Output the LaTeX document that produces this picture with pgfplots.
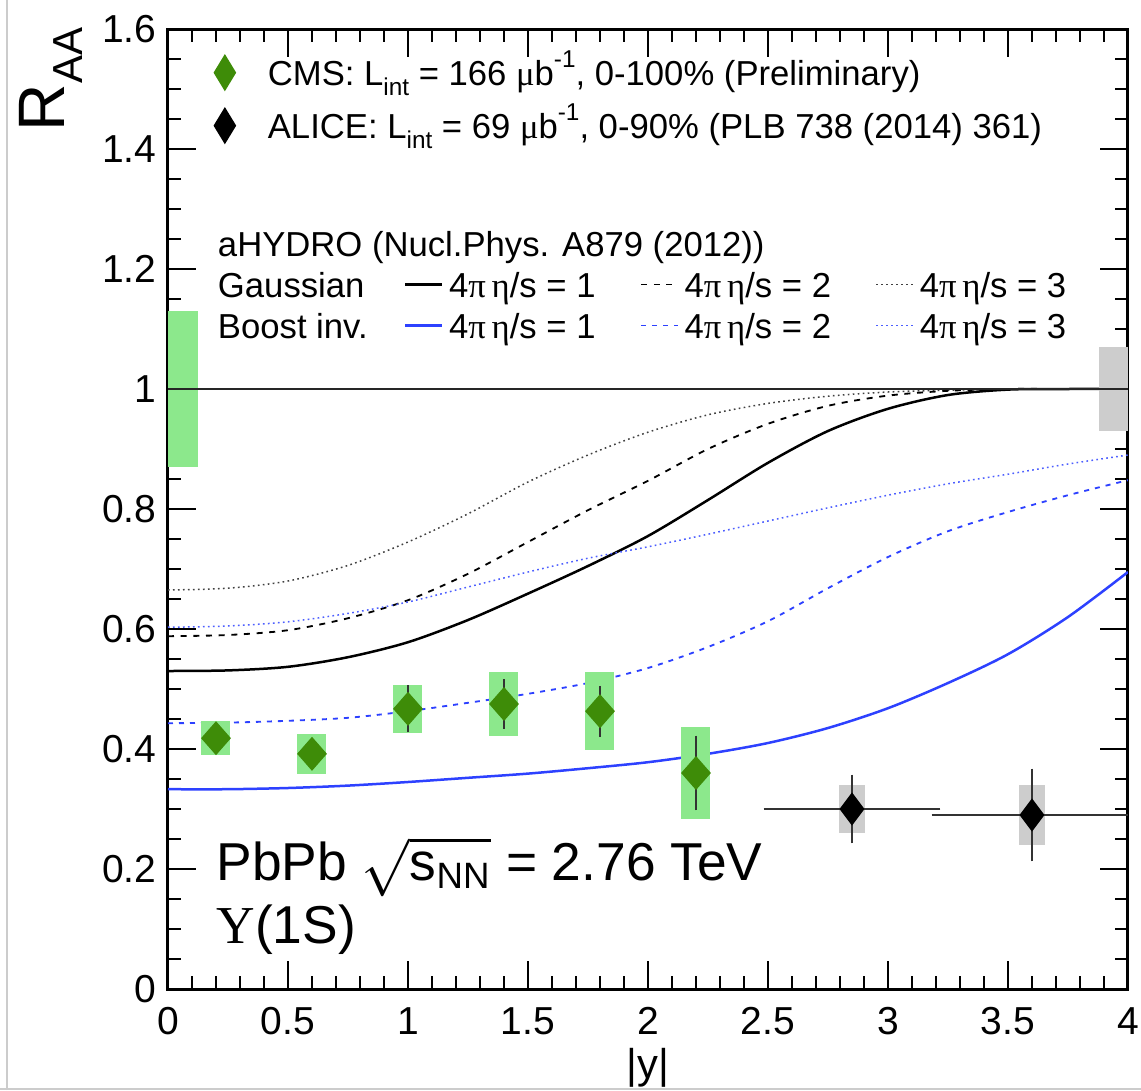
\documentclass[border=0pt]{standalone}
\usepackage{fontspec}
\setmainfont{Liberation Sans}
\newfontfamily\gk{Liberation Serif}
\usepackage{graphicx}
\usepackage{pgfplots}
\usepackage{pgfplotstable}
\pgfplotsset{compat=1.18}

\definecolor{cmsgreen}{RGB}{62,140,8}
\definecolor{cmsbox}{RGB}{140,232,140}
\definecolor{alicebox}{RGB}{205,205,205}
\definecolor{hydroblue}{RGB}{45,65,255}

% aHYDRO curves: Gaussian (g) and boost-invariant (b) rapidity profiles, 4 pi eta/s = 1,2,3
\pgfplotstableread{
x    g1    g2    g3    b1    b2    b3
0.00 0.530 0.588 0.665 0.333 0.443 0.603
0.25 0.531 0.590 0.668 0.333 0.444 0.605
0.50 0.537 0.598 0.680 0.335 0.447 0.612
0.75 0.553 0.618 0.706 0.339 0.452 0.626
1.00 0.578 0.648 0.745 0.345 0.463 0.645
1.25 0.615 0.692 0.792 0.352 0.477 0.670
1.50 0.659 0.745 0.845 0.359 0.492 0.695
1.75 0.705 0.798 0.890 0.368 0.510 0.718
2.00 0.755 0.847 0.928 0.378 0.535 0.737
2.25 0.815 0.900 0.957 0.392 0.570 0.758
2.50 0.877 0.942 0.976 0.410 0.613 0.780
2.75 0.930 0.972 0.988 0.435 0.668 0.802
3.00 0.967 0.989 0.995 0.468 0.720 0.823
3.25 0.990 0.997 0.998 0.510 0.763 0.842
3.50 0.999 1.000 1.000 0.558 0.795 0.858
3.75 1.000 1.000 1.000 0.620 0.823 0.875
4.00 1.000 1.000 1.000 0.695 0.848 0.890
}\hydro

% CMS Upsilon(1S) R_AA vs |y|: value, stat. and syst. uncertainty
\pgfplotstableread{
x   y     stat  syst
0.2 0.418 0.015 0.028
0.6 0.392 0.015 0.033
1.0 0.467 0.032 0.040
1.4 0.475 0.034 0.053
1.8 0.463 0.035 0.065
2.2 0.360 0.055 0.076
}\cms

% ALICE forward rapidity bins
\pgfplotstableread{
x    y     xerr stat syst
2.85 0.300 0.35 0.05 0.04
3.60 0.290 0.40 0.07 0.05
}\alice

% global (normalisation) uncertainties at unity
\pgfplotstableread{
x      y e
0.0625 1 0.13
}\cmsglobal
\pgfplotstableread{
x    y e
3.94 1 0.07
}\aliceglobal

\newcommand\subr[1]{\raisebox{-0.3em}{\fontsize{7.3}{8}\selectfont #1}}
\newcommand\supr[1]{\raisebox{0.5em}{\fontsize{7.3}{8}\selectfont #1}}
\newcommand\etas[1]{\makebox[59.1pt][l]{\hspace{1.8pt}4{\gk π}\,{\gk η}/s = #1}}

\pgfplotsset{
  modline/.style={legend image code/.code={\draw[##1] (0pt,0pt) -- (11pt,0pt);}},
  datamark/.style={only marks, mark=diamond*, mark size=5.2pt,
    legend image code/.code={\path[draw=none, fill=none] (-3.16pt,0pt) rectangle (12.9pt,0pt);
      \draw[##1] plot coordinates {(0pt,0pt)};}},
  g1style/.style={black, line width=0.75pt},
  g2style/.style={black, line width=0.55pt, dash pattern=on 1.8pt off 2pt},
  g3style/.style={black!75, line width=0.45pt, dash pattern=on 0.5pt off 1pt},
  b1style/.style={hydroblue, line width=0.75pt},
  b2style/.style={hydroblue, line width=0.55pt, dash pattern=on 1.5pt off 1.8pt},
  b3style/.style={hydroblue!85, line width=0.45pt, dash pattern=on 0.5pt off 1pt},
  % uncertainty box: a thick error bar with no visible marker
  syst box/.style 2 args={only marks, mark=*, mark size=0pt,
    mark options={draw=none, fill=none}, forget plot,
    error bars/.cd, y dir=both, y explicit, error mark=none,
    error bar style={line width=#1, color=#2, solid}},
  frame/.style={at={(0pt,0pt)}, anchor=south west, scale only axis,
    width=288pt, height=288pt, xmin=0, xmax=4, ymin=0, ymax=1.6},
}

\begin{document}
\begin{tikzpicture}
\path[use as bounding box] (-50.4pt,-30.3pt) rectangle (291.9pt,296.7pt);

\begin{axis}[
  frame,
  xtick={0,0.5,...,4},
  ytick={0,0.2,0.4,0.6,0.8,1,1.2,1.4,1.6},
  minor x tick num=4, minor y tick num=3,
  tick align=inside,
  major tick length=8.4pt, minor tick length=4pt,
  every tick/.style={black, line width=0.6pt},
  axis line style={line width=0.9pt},
  /pgf/number format/assume math mode=true,
  tick label style={font=\fontsize{11.7}{14}\selectfont, inner sep=0pt},
  xticklabel style={yshift=-5.4pt},
  yticklabel style={xshift=-3.3pt},
  legend columns=4,
  legend cell align=left,
  legend style={at={(0,1)}, anchor=north west, xshift=15pt, yshift=-60.6pt,
    draw=none, fill=none, inner sep=0pt, outer sep=0pt,
    row sep=4.8pt, column sep=0pt,
    font=\fontsize{10.4}{12}\selectfont,
    nodes={inner sep=0pt, text height=7.5pt, text depth=0pt},
    cells={anchor=west}},
]
% model curves
\addplot[g3style, smooth, forget plot] table[x=x, y=g3] {\hydro};
\addplot[g2style, smooth, forget plot] table[x=x, y=g2] {\hydro};
\addplot[g1style, smooth, forget plot] table[x=x, y=g1] {\hydro};
\addplot[b3style, smooth, forget plot] table[x=x, y=b3] {\hydro};
\addplot[b2style, smooth, forget plot] table[x=x, y=b2] {\hydro};
\addplot[b1style, smooth, forget plot] table[x=x, y=b1] {\hydro};

% systematic uncertainty boxes
\addplot[syst box={8.7pt}{cmsbox}]    table[x=x, y=y, y error=syst] {\cms};
\addplot[syst box={8pt}{alicebox}]    table[x=x, y=y, y error=syst] {\alice};
\addplot[syst box={9pt}{cmsbox}]      table[x=x, y=y, y error=e] {\cmsglobal};
\addplot[syst box={8.7pt}{alicebox}]  table[x=x, y=y, y error=e] {\aliceglobal};

% unity
\addplot[black!85, line width=0.6pt, forget plot] coordinates {(0,1) (4,1)};

% data points with statistical uncertainties
\addplot[only marks, mark=diamond*, mark size=4.8pt,
  mark options={fill=cmsgreen, draw=cmsgreen, xscale=1.17, solid},
  forget plot,
  error bars/.cd, y dir=both, y explicit,
  error mark options={black!80, mark size=1.3pt, line width=0.5pt},
  error bar style={black!80, line width=0.5pt}]
  table[x=x, y=y, y error=stat] {\cms};
\addplot[only marks, mark=diamond*, mark size=4.65pt,
  mark options={fill=black, draw=black, solid},
  forget plot,
  error bars/.cd, x dir=both, x explicit, y dir=both, y explicit,
  error mark options={black!80, mark size=1.3pt, line width=0.5pt},
  error bar style={black!80, line width=0.5pt}]
  table[x=x, y=y, x error=xerr, y error=stat] {\alice};

% model legend
\addlegendimage{empty legend}
\addlegendentry{\makebox[55.8pt][l]{aHYDRO (Nucl.Phys. A879 (2012))}}
\addlegendimage{empty legend}\addlegendentry{}
\addlegendimage{empty legend}\addlegendentry{}
\addlegendimage{empty legend}\addlegendentry{}
\addlegendimage{empty legend}\addlegendentry{\makebox[55.8pt][l]{Gaussian}}
\addlegendimage{modline, g1style}\addlegendentry{\etas{1}}
\addlegendimage{modline, g2style}\addlegendentry{\etas{2}}
\addlegendimage{modline, g3style}\addlegendentry{\etas{3}}
\addlegendimage{empty legend}\addlegendentry{\makebox[55.8pt][l]{Boost inv.}}
\addlegendimage{modline, b1style}\addlegendentry{\etas{1}}
\addlegendimage{modline, b2style}\addlegendentry{\etas{2}}
\addlegendimage{modline, b3style}\addlegendentry{\etas{3}}
\end{axis}

% data legend
\begin{axis}[
  frame, hide axis,
  legend cell align=left,
  legend style={at={(0,1)}, anchor=north west, xshift=13.9pt, yshift=-7.9pt,
    draw=none, fill=none, inner sep=0pt, outer sep=0pt,
    row sep=5.5pt,
    font=\fontsize{10.4}{12}\selectfont,
    nodes={inner sep=0pt, text height=7.5pt, text depth=0pt},
    cells={anchor=west}},
]
\addlegendimage{datamark, mark options={fill=cmsgreen, draw=cmsgreen, xscale=0.81}}
\addlegendentry{CMS: L\subr{int} = 166 {\gk μ}b\supr{-1}, 0-100\% (Preliminary)}
\addlegendimage{datamark, mark options={fill=black, draw=black, xscale=0.81}}
\addlegendentry{ALICE: L\subr{int} = 69 {\gk μ}b\supr{-1}, 0-90\% (PLB 738 (2014) 361)}
\end{axis}

% axis titles
\node[rotate=90, anchor=base east, inner sep=0pt, font=\fontsize{19.7}{22}\selectfont]
  at (-30.9pt,288.6pt) {R\raisebox{-5.4pt}{\fontsize{12.6}{14}\selectfont AA}};
\node[anchor=base, inner sep=0pt, font=\fontsize{12.5}{14}\selectfont]
  at (144pt,-26.7pt) {|y|};

% collision system
\node[anchor=base west, inner sep=0pt, font=\fontsize{16}{19}\selectfont]
  at (14.4pt,32.7pt) {PbPb $\sqrt{\mbox{s}_{\mbox{\fontsize{11}{12}\selectfont NN}}}$ = 2.76 TeV};
\node[anchor=base west, inner sep=0pt, font=\fontsize{16}{19}\selectfont]
  at (14.4pt,13.8pt) {{\gk Υ}(1S)};

% page edge lines
\draw[gray!40, line width=0.6pt] (-48.3pt,-30.3pt) -- (-48.3pt,296.7pt);
\draw[gray!40, line width=0.6pt] (-50.4pt,-30pt) -- (291.9pt,-30pt);
\end{tikzpicture}
\end{document}
